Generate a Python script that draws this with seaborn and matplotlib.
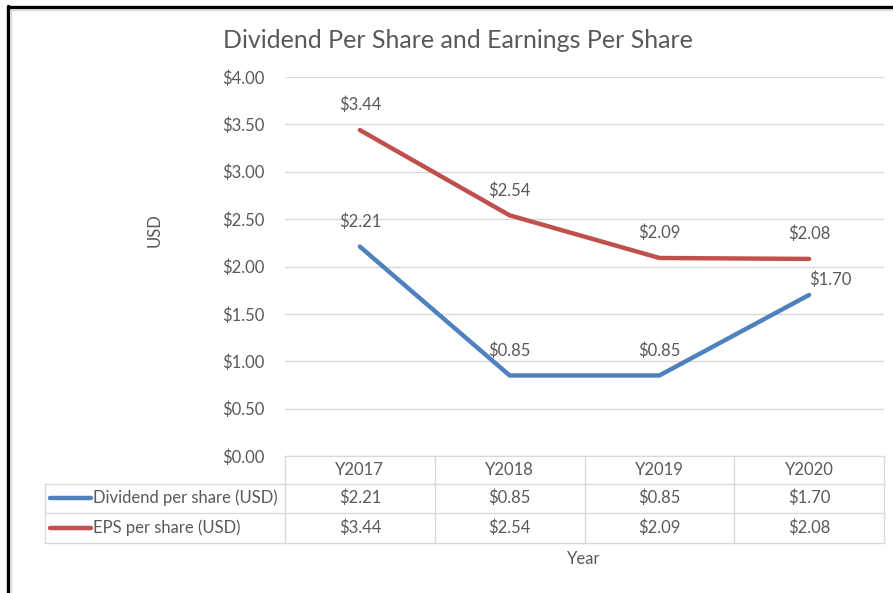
import matplotlib
matplotlib.use("Agg")
import matplotlib.pyplot as plt
import matplotlib.transforms as mtransforms
from matplotlib.lines import Line2D
import numpy as np
import pandas as pd
import seaborn as sns

# data
years = ["Y2017", "Y2018", "Y2019", "Y2020"]
dividend = [2.21, 0.85, 0.85, 1.70]
eps = [3.44, 2.54, 2.09, 2.08]
series_names = ["Dividend per share (USD)", "EPS per share (USD)"]
series_colors = ["#4F81BD", "#C0504D"]
y_ticks = [0, 0.5, 1.0, 1.5, 2.0, 2.5, 3.0, 3.5, 4.0]

W, H = 893, 593
GREY_TXT = "#595959"
GRID = "#D9D9D9"
FS = 12

sns.set_style("white")
plt.rcParams["font.family"] = ["Lato", "DejaVu Sans"]

df = pd.DataFrame({
    "pos": list(range(len(years))) * 2,
    "value": dividend + eps,
    "series": [series_names[0]] * len(years) + [series_names[1]] * len(years),
})


def fx(px):
    return px / W


def fy(py):
    return 1 - py / H


fig = plt.figure(figsize=(W / 100, H / 100), dpi=100)
ax = fig.add_axes([fx(285), fy(456), fx(884) - fx(285), fy(77) - fy(456)])

sns.lineplot(data=df, x="pos", y="value", hue="series", palette=series_colors,
             linewidth=3.2, legend=False, ax=ax, solid_capstyle="round")

ax.set_xlim(-0.5, len(years) - 0.5)
ax.set_ylim(0, 4)
ax.set_yticks(y_ticks)
ax.set_yticklabels([f"${v:.2f}" for v in y_ticks])
ax.set_xticks([])
ax.set_xlabel("")
ax.set_ylabel("")
ax.tick_params(axis="y", length=0, pad=15, labelsize=FS, labelcolor=GREY_TXT)
ax.grid(axis="y", color=GRID, linewidth=1)
ax.set_axisbelow(True)
for s in ["left", "right", "top"]:
    ax.spines[s].set_visible(False)
ax.spines["bottom"].set_color(GRID)

# data labels above the points (last dividend label nudged right like Excel did)
for vals in [dividend, eps]:
    for i, v in enumerate(vals):
        off = (0, 12)
        if vals is dividend and i == len(vals) - 1:
            off = (15, 5)
        ax.annotate(f"${v:.2f}", (i, v), xytext=off, textcoords="offset points",
                    ha="center", va="bottom", fontsize=FS, color=GREY_TXT)

# titles
fig.text(fx(458), fy(40), "Dividend Per Share and Earnings Per Share",
         ha="center", va="center", fontsize=18, color=GREY_TXT)
fig.text(fx(155), fy(230), "USD", rotation=90, ha="center", va="center",
         fontsize=FS, color=GREY_TXT)
fig.text(fx(584), fy(559), "Year", ha="center", va="center",
         fontsize=FS, color=GREY_TXT)

# data table below the axis
blend = mtransforms.blended_transform_factory(ax.transData, fig.transFigure)
row_y = [470, 498, 528]
for i, yr in enumerate(years):
    ax.text(i, fy(row_y[0]), yr, transform=blend, ha="center", va="center",
            fontsize=FS, color=GREY_TXT, clip_on=False)
    for r, vals in enumerate([dividend, eps]):
        ax.text(i, fy(row_y[r + 1]), f"${vals[i]:.2f}", transform=blend,
                ha="center", va="center", fontsize=FS, color=GREY_TXT, clip_on=False)

for r, name in enumerate(series_names):
    yy = fy(row_y[r + 1])
    fig.add_artist(Line2D([fx(50), fx(91)], [yy, yy], color=series_colors[r],
                          linewidth=3.2, solid_capstyle="round"))
    fig.text(fx(93), yy, name, ha="left", va="center", fontsize=FS, color=GREY_TXT)

for yline in [484, 513, 543]:
    fig.add_artist(Line2D([fx(45), fx(884)], [fy(yline), fy(yline)], color=GRID, linewidth=1))
fig.add_artist(Line2D([fx(45), fx(45)], [fy(484), fy(543)], color=GRID, linewidth=1))
for k in range(len(years) + 1):
    xb = ax.transData.transform((k - 0.5, 0))[0] / fig.bbox.width
    fig.add_artist(Line2D([xb, xb], [fy(456), fy(543)], color=GRID, linewidth=1))

# screenshot frame
fig.add_artist(Line2D([fx(8), fx(893)], [fy(6.5), fy(6.5)], color="black", linewidth=2.4))
fig.add_artist(Line2D([fx(8), fx(8)], [fy(5.5), fy(593)], color="black", linewidth=2.4))
fig.add_artist(Line2D([fx(11), fx(893)], [fy(9.5), fy(9.5)], color=GRID, linewidth=1))
fig.add_artist(Line2D([fx(11), fx(11)], [fy(9.5), fy(593)], color=GRID, linewidth=1))

fig.savefig("out.png", dpi=100)
